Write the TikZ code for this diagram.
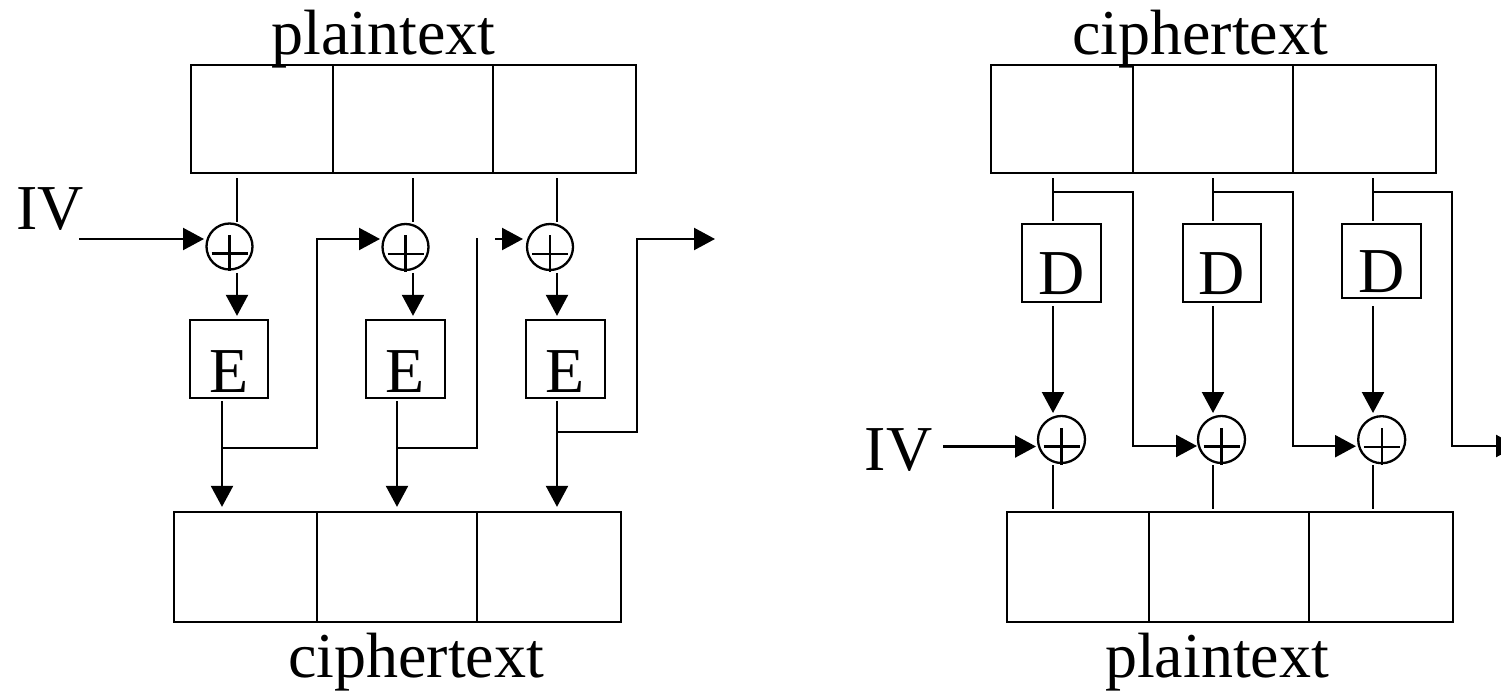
\documentclass[tikz,border=0pt]{standalone}
\usepackage{fontspec}
\setmainfont{Liberation Serif}
\usetikzlibrary{arrows.meta,calc}
\begin{document}
\begin{tikzpicture}[x=1pt,y=-1pt, line width=2.3pt,
  cell/.style={draw, inner sep=0pt, minimum height=108pt},
  fbox/.style={draw, inner sep=0pt, minimum width=78pt, minimum height=78pt},
  xor/.style={draw, circle, inner sep=0pt, minimum size=46pt},
  lbl/.style={inner sep=0pt, anchor=base, font=\fontsize{64}{70}\selectfont},
  arr/.style={-{Triangle[length=21pt,width=22pt]}}]
\clip (0,0) rectangle (1501,692);
% ---------------- left: CBC encryption ----------------
\node[cell, minimum width=142pt] (pt1) at (262,119) {};
\node[cell, minimum width=160pt] (pt2) at (413,119) {};
\node[cell, minimum width=143pt] (pt3) at (564.5,119) {};
\node[lbl] (ptxt) at (383.5,55) {plaintext};
\node[lbl] (ivl) at (50,230) {IV};
\node[xor] (xa1) at (229.5,246.5) {};
\node[xor] (xa2) at (405.5,247) {};
\node[xor] (xa3) at (550,247) {};
\node[fbox] (e1) at (229,359) {};
\node[fbox, minimum width=79pt] (e2) at (405.5,359) {};
\node[fbox, minimum width=79pt] (e3) at (565.5,359) {};
\node[lbl] (e1t) at ($(e1.center)+(0,33)$) {E};
\node[lbl] (e2t) at ($(e2.center)+(0,33)$) {E};
\node[lbl] (e3t) at ($(e3.center)+(0,33)$) {E};
\node[cell, minimum width=143pt, minimum height=110pt] (cb1) at (245.5,567) {};
\node[cell, minimum width=160pt, minimum height=110pt] (cb2) at (397,567) {};
\node[cell, minimum width=144pt, minimum height=110pt] (cb3) at (549,567) {};
\node[lbl] (ctxtL) at (416,677) {ciphertext};
\coordinate (outL) at (715,239);
% column 1
\draw ($(pt1.south)+(-25,4)$) -- ($(xa1.center)+(7.5,-24.5)$);
\draw[arr] ($(xa1.center)+(-150.5,-7.5)$) -- ($(xa1.center)+(-25.5,-7.5)$);
\draw[arr] ($(xa1.center)+(7.5,26.5)$) -- ($(e1.north)+(8,-3)$);
\draw[arr] ($(e1.south)+(-7,2)$) -- ($(cb1.north)+(-23.5,-4)$);
\draw[arr] ($(e1.south)+(-7,49)$) -| ($(xa2.center)+(-88.5,-8)$) -- ($(xa2.center)+(-25.5,-8)$);
% column 2
\draw ($(pt2.south)+(0,4)$) -- ($(xa2.center)+(7.5,-25)$);
\draw[arr] ($(xa2.center)+(7.5,26)$) -- ($(e2.north)+(7.5,-3)$);
\draw[arr] ($(e2.south)+(-8.5,2)$) -- ($(cb2.north)+(0,-4)$);
\draw ($(e2.south)+(-8.5,49)$) -| ($(xa3.center)+(-73,-9)$);
\draw[arr] ($(xa3.center)+(-55,-8)$) -- ($(xa3.center)+(-27,-8)$);
% column 3
\draw ($(pt3.south)+(-7.5,4)$) -- ($(xa3.center)+(7,-25)$);
\draw[arr] ($(xa3.center)+(7,26)$) -- ($(e3.north)+(-8.5,-3)$);
\draw[arr] ($(e3.south)+(-8.5,2)$) -- ($(cb3.north)+(8,-4)$);
\draw[arr] ($(e3.south)+(-8.5,33)$) -| ($(outL)+(-78,0)$) -- (outL);
% ---------------- right: CBC decryption ----------------
\node[cell, minimum width=142pt] (ct1) at (1062,119) {};
\node[cell, minimum width=160pt] (ct2) at (1213,119) {};
\node[cell, minimum width=143pt] (ct3) at (1364.5,119) {};
\node[lbl] (ctxtR) at (1200,55) {ciphertext};
\node[fbox, minimum width=79pt] (d1) at (1061.5,263) {};
\node[fbox] (d2) at (1222,263) {};
\node[fbox, minimum width=79pt, minimum height=74pt] (d3) at (1381.5,261) {};
\node[lbl] (d1t) at ($(d1.center)+(0,32)$) {D};
\node[lbl] (d2t) at ($(d2.center)+(0,32)$) {D};
\node[lbl] (d3t) at ($(d3.center)+(0,32)$) {D};
\node[xor, minimum size=47pt] (xb1) at (1061.5,439.5) {};
\node[xor, minimum size=47pt] (xb2) at (1221.5,439.5) {};
\node[xor, minimum size=47pt] (xb3) at (1381.7,439.7) {};
\node[lbl] (ivr) at (898.5,470) {IV};
\node[cell, minimum width=142pt, minimum height=110pt] (pb1) at (1078,567) {};
\node[cell, minimum width=160pt, minimum height=110pt] (pb2) at (1229,567) {};
\node[cell, minimum width=144pt, minimum height=110pt] (pb3) at (1381,567) {};
\node[lbl] (ptxtR) at (1217,677) {plaintext};
\coordinate (outR) at (1517,446);
% column 1
\draw ($(ct1.south)+(-9,4)$) -- ($(d1.north)+(-8.5,-2)$);
\draw[arr] ($(ct1.south)+(-9,18)$) -| ($(xb2.center)+(-88.5,6.5)$) -- ($(xb2.center)+(-24.5,6.5)$);
\draw[arr] ($(d1.south)+(-8.5,3)$) -- ($(xb1.center)+(-8.5,-26.5)$);
\draw ($(xb1.center)+(-8.5,25.5)$) -- ($(pb1.north)+(-25,-2)$);
\draw[arr] ($(xb1.center)+(-118.5,7)$) -- ($(xb1.center)+(-25.5,7)$);
% column 2
\draw ($(ct2.south)+(0,4)$) -- ($(d2.north)+(-9,-2)$);
\draw[arr] ($(ct2.south)+(0,18)$) -| ($(xb3.center)+(-88.7,6.5)$) -- ($(xb3.center)+(-25.7,6.5)$);
\draw[arr] ($(d2.south)+(-9,3)$) -- ($(xb2.center)+(-8.5,-26.5)$);
\draw ($(xb2.center)+(-8.5,25.5)$) -- ($(pb2.north)+(-16,-2)$);
% column 3
\draw ($(ct3.south)+(8.5,4)$) -- ($(d3.north)+(-8.5,-2)$);
\draw[arr] ($(ct3.south)+(8.5,18)$) -| ($(outR)+(-65,0)$) -- (outR);
\draw[arr] ($(d3.south)+(-8.5,7)$) -- ($(xb3.center)+(-8.7,-26.7)$);
\draw ($(xb3.center)+(-8.7,25.3)$) -- ($(pb3.north)+(-8,-2)$);
% plus signs of the XOR gates
\foreach \n in {xa1,xa2,xa3,xb1,xb2,xb3}
  \draw ($(\n.center)+(-18,7)$) -- ++(36,0)
        ($(\n.center)+(0,-11.5)$) -- ++(0,36.5);
\end{tikzpicture}
\end{document}
